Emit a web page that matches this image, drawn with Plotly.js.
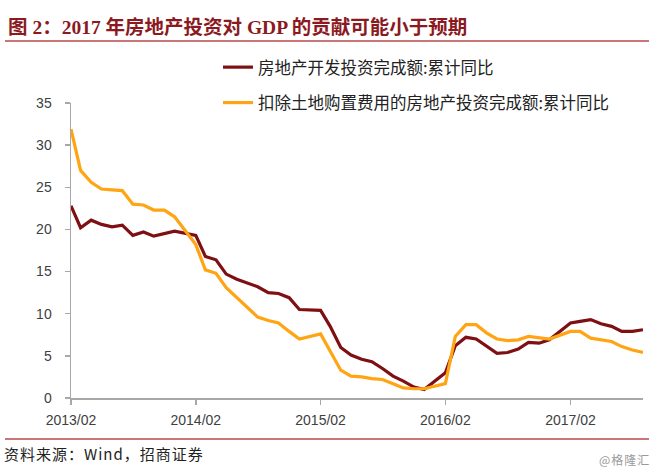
<!DOCTYPE html>
<html>
<head>
<meta charset="utf-8">
<script src="https://cdn.plot.ly/plotly-3.0.1.min.js"></script>
<style>
html,body{margin:0;padding:0;background:#fff;}
#chart{width:655px;height:471px;}
#chart .annotation-text{letter-spacing:1px;}
</style>
</head>
<body>
<div id="chart"></div>
<script>
// Months (Jan-Feb combined, so January is absent)
const months = [
  '2013-02-01','2013-03-01','2013-04-01','2013-05-01','2013-06-01','2013-07-01','2013-08-01','2013-09-01','2013-10-01','2013-11-01','2013-12-01',
  '2014-02-01','2014-03-01','2014-04-01','2014-05-01','2014-06-01','2014-07-01','2014-08-01','2014-09-01','2014-10-01','2014-11-01','2014-12-01',
  '2015-02-01','2015-03-01','2015-04-01','2015-05-01','2015-06-01','2015-07-01','2015-08-01','2015-09-01','2015-10-01','2015-11-01','2015-12-01',
  '2016-02-01','2016-03-01','2016-04-01','2016-05-01','2016-06-01','2016-07-01','2016-08-01','2016-09-01','2016-10-01','2016-11-01','2016-12-01',
  '2017-02-01','2017-03-01','2017-04-01','2017-05-01','2017-06-01','2017-07-01','2017-08-01','2017-09-01'
];
// 房地产开发投资完成额:累计同比
const devInvest = [
  22.8,20.2,21.1,20.6,20.3,20.5,19.3,19.7,19.2,19.5,19.8,
  19.3,16.8,16.4,14.7,14.1,13.7,13.2,12.5,12.4,11.9,10.5,
  10.4,8.5,6.0,5.1,4.6,4.3,3.5,2.6,2.0,1.3,1.0,
  3.0,6.2,7.2,7.0,6.1,5.3,5.4,5.8,6.6,6.5,6.9,
  8.9,9.1,9.3,8.8,8.5,7.9,7.9,8.1
];
// 扣除土地购置费用的房地产投资完成额:累计同比
const exLandInvest = [
  31.9,27.0,25.6,24.8,24.7,24.6,23.0,22.9,22.3,22.3,21.5,
  18.2,15.2,14.8,13.1,11.9,10.7,9.6,9.2,8.9,7.9,7.0,
  7.6,5.5,3.3,2.6,2.5,2.3,2.2,1.7,1.2,1.1,1.1,
  1.7,7.3,8.7,8.7,7.7,7.0,6.8,6.9,7.3,7.1,7.0,
  7.9,7.9,7.1,6.9,6.7,6.1,5.7,5.4
];
const seriesNames = ['房地产开发投资完成额:累计同比','扣除土地购置费用的房地产投资完成额:累计同比'];
const titleText = '图 2：2017 年房地产投资对 GDP 的贡献可能小于预期';
const sourceText = '资料来源：Wind，招商证券';
const watermark = '@格隆汇';

const cjk = '"Noto Sans CJK SC", "Liberation Sans", Arial, sans-serif';
const traces = [
  {x: months, y: devInvest, name: seriesNames[0], type: 'scatter', mode: 'lines',
   line: {color: '#7E0F12', width: 3.2}, legendgroup: 'a'},
  {x: months, y: exLandInvest, name: seriesNames[1], type: 'scatter', mode: 'lines',
   line: {color: '#FFA412', width: 3.2}, legendgroup: 'b'}
];

const layout = {
  width: 655, height: 471,
  margin: {l: 71, r: 12, t: 103, b: 73},
  paper_bgcolor: '#ffffff', plot_bgcolor: '#ffffff',
  showlegend: true,
  title: {
    text: '<b>' + titleText + '</b>',
    x: 8/655, xanchor: 'left', xref: 'container',
    y: 1 - 27/471, yanchor: 'middle', yref: 'container',
    font: {family: '"Liberation Serif", "Noto Sans CJK SC", serif', size: 19.5, color: '#8B1A1F'}
  },
  legend: {
    x: 0.257, xanchor: 'left', y: 1.18, yanchor: 'top',
    bgcolor: 'rgba(0,0,0,0)',
    font: {family: cjk, size: 16.5, color: '#222222'},
    traceorder: 'grouped', tracegroupgap: 11
  },
  xaxis: {
    type: 'date',
    range: ['2013-02-01', '2017-09-01'],
    tick0: '2013-02-01', dtick: 'M12', tickformat: '%Y/%m',
    ticks: 'outside', ticklen: 5, tickwidth: 1.5, tickcolor: '#A8A8A8',
    showline: true, linecolor: '#A8A8A8', linewidth: 1.5,
    showgrid: false, zeroline: false,
    ticklabelstandoff: 4,
    tickfont: {family: '"Liberation Sans", Arial, sans-serif', size: 14, color: '#404040'}
  },
  yaxis: {
    range: [0, 35], dtick: 5, tick0: 0,
    ticks: 'outside', ticklen: 5, tickwidth: 1.5, tickcolor: '#A8A8A8',
    showline: true, linecolor: '#A8A8A8', linewidth: 1.5,
    showgrid: false, zeroline: false,
    ticklabelstandoff: 10,
    tickfont: {family: '"Liberation Sans", Arial, sans-serif', size: 14, color: '#404040'}
  },
  shapes: [
    {type: 'line', xref: 'paper', yref: 'paper',
     x0: (5-71)/572, x1: (649-71)/572, y0: (398-41)/295, y1: (398-41)/295,
     line: {color: '#C97676', width: 2}},
    {type: 'line', xref: 'paper', yref: 'paper',
     x0: (5-71)/572, x1: (649-71)/572, y0: (398-439)/295, y1: (398-439)/295,
     line: {color: '#C97676', width: 2}}
  ],
  annotations: [
    {text: sourceText, xref: 'paper', yref: 'paper',
     x: (9-71)/572, y: (398-453)/295, xanchor: 'left', yanchor: 'middle', showarrow: false,
     font: {family: cjk, size: 15, color: '#222222'}},
    {text: watermark, xref: 'paper', yref: 'paper',
     x: (650-71)/572, y: (398-459)/295, xanchor: 'right', yanchor: 'middle', showarrow: false,
     font: {family: cjk, size: 12, color: '#9A9A9A'}}
  ]
};

Plotly.newPlot('chart', traces, layout, {displayModeBar: false, staticPlot: true});
</script>
</body>
</html>
